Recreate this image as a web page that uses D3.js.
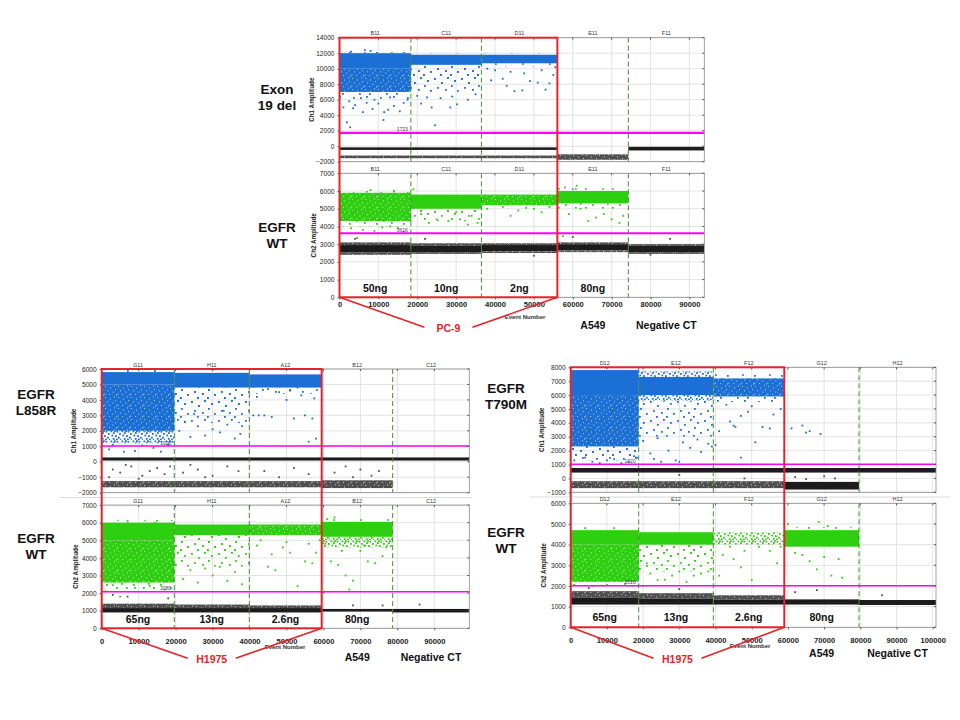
<!DOCTYPE html>
<html><head><meta charset="utf-8">
<script src="https://cdn.jsdelivr.net/npm/d3@7"></script>
<style>body{margin:0;background:#fff}svg{display:block}text{font-family:"Liberation Sans",Arial,sans-serif}</style>
</head><body><svg id="c" width="960" height="720"></svg>
<script>
// ================= DATA =================
// cluster rows: [start event, end event, low amplitude, high amplitude, density level 0..3]
// ---- Panel A : Exon 19 del / EGFR WT ----
const aWells = ["B11","C11","D11","E11","F11"];
const aBounds = [0, 18355, 36500, 56040, 74290, 93830];
const aXTicks = [0,10000,20000,30000,40000,50000,60000,70000,80000,90000];
const aCh1Ticks = [-2000,0,2000,4000,6000,8000,10000,12000,14000];
const aCh2Ticks = [0,1000,2000,3000,4000,5000,6000,7000];
const aThresholds = [1723, 3616];
const aAmounts = ["50ng","10ng","2ng","80ng"];
const aGroups = ["PC-9","A549","Negative CT"];
const aRowLabels = [["Exon","19 del"],["EGFR","WT"]];
const aCh1Pos = [[0,18355,10000,12000,0],[0,18355,12000,12150,3],[0,18355,7000,10000,1],[0,18355,6100,7000,3],
  [18355,36500,10500,11800,0],[18355,36500,11800,11950,3],[18355,36500,7000,10500,3],[18355,36500,8000,10200,3],
  [36500,56040,10700,11800,0],[36500,56040,10300,10700,3],[36500,56040,11800,11950,3]];
const aCh1Neg = [[0,56040,-480,-150,0],[0,56040,-1550,-1200,1],[56040,74290,-1750,-1050,1],[74290,93830,-550,-80,0]];
const aCh1Rain = [[1900,3080],[2750,2440],[11300,3380],[1000,5000],[2500,5800],[4000,5300],[5500,6200],[7000,5600],[8500,4800],[10000,5500],[11500,4400],[12500,4700],[14000,5200],[15500,4500],[16500,5600],[17500,6000],[3500,4900],[9000,6000],[13000,6300],[6000,4400],[6500,12400],[8000,12300],[3000,12200],
  [21000,5500],[23700,5000],[24600,2700],[28500,5000],[30200,5400],[26000,6200],[33000,6000],[20000,6500],[35000,6700],[22500,6300],[29000,6400],
  [38000,10000],[40000,9800],[42000,8700],[43000,7800],[45000,7100],[47000,7200],[49000,8400],[51000,8200],[53000,7300],[54000,8100],[55000,9200],[44000,9600],[47500,9400],[52000,9800],[39000,8500],[55500,10200]];
const aCh1RainNeg = [];
const aCh2Pos = [[0,18355,4300,5900,1],[0,18355,4000,4300,3],[0,18355,5900,6050,3],[18355,36500,5000,5800,0],[18355,36500,4300,5000,3],[18355,36500,4700,5000,3],
  [36500,56040,5200,5800,1],[56040,74290,5300,6000,0],[56040,74290,5000,5300,3],[56040,74290,6000,6150,3]];
const aCh2Neg = [[0,18355,2550,2950,0],[0,18355,2400,2550,1],[0,18355,2950,3100,1],
  [18355,36500,2550,2900,0],[18355,36500,2450,2550,1],[18355,36500,2900,3050,1],
  [36500,56040,2600,2950,0],[36500,56040,2500,2600,1],[36500,56040,2950,3050,1],
  [56040,74290,2650,3000,0],[56040,74290,2550,2650,1],[56040,74290,3000,3100,1],
  [74290,93830,2550,2900,0],[74290,93830,2450,2550,1],[74290,93830,2900,3000,1]];
const aCh2Rain = [[3000,3900],[6000,3800],[9000,3750],[13000,4000],[15000,3900],[16500,3700],[4500,3350],[11000,3950],[8000,6050],[14000,6000],
  [19000,6100],[21000,4700],[25000,4400],[28000,4300],[31000,4400],[34000,4600],[35500,4200],[30000,4800],[23000,4200],[33000,4100],
  [38000,5000],[42000,5100],[46000,4900],[50000,5000],[54000,5100],[44000,4600],[48000,5050],[52000,4800],
  [58000,6200],[60000,6100],[62000,5000],[64000,4300],[66000,4500],[68000,4700],[70000,4400],[72000,4200],[73000,4600],[59000,4700],[61000,6300],[57500,3450]];
const aCh2RainNeg = [[4000,3300],[50000,2350],[80000,2400],[85000,3300],[60000,3400],[22000,3300]];

// ---- Panel B : EGFR L858R / EGFR WT ----
const bWells = ["G11","H11","A12","B12","C12"];
const bBounds = [0, 19640, 39940, 59520, 78730, 99460];
const bXTicks = [0,10000,20000,30000,40000,50000,60000,70000,80000,90000];
const bCh1Ticks = [-2000,-1000,0,1000,2000,3000,4000,5000,6000];
const bCh2Ticks = [0,1000,2000,3000,4000,5000,6000,7000];
const bThresholds = [1020, 2080];
const bAmounts = ["65ng","13ng","2.6ng","80ng"];
const bGroups = ["H1975","A549","Negative CT"];
const bRowLabels = [["EGFR","L858R"],["EGFR","WT"]];
const bCh1Pos = [[0,19640,5000,5800,0],[0,19640,5800,5950,3],[0,19640,2000,5000,1],[0,19640,1200,2000,2],
  [19640,39940,4800,5750,0],[19640,39940,2500,4800,3],[19640,39940,3500,4800,3],[39940,59520,4800,5650,0],[39940,59520,4400,4800,3]];
const bCh1Neg = [[0,99460,80,280,0],[0,59520,-1650,-1250,1],[59520,78730,-1700,-1200,1]];
const bCh1Rain = [[2000,800],[6000,650],[9000,700],[14000,900],[16000,650],[3000,1100],[11000,1050],[18000,1100],
  [21000,2000],[24000,1600],[28000,1700],[32000,1900],[36000,1500],[38000,2300],[26000,2300],[22500,2600],[30000,2100],[34000,2400],[37500,1800],[25000,3100],[33000,3300],
  [42000,4200],[44000,3000],[46000,2900],[48000,4500],[50000,4000],[52000,2800],[54000,4300],[55000,3000],[57000,2800],[58000,1500],[56000,1300],[41000,3000],[42500,3000],[45000,4700],[51000,4600],[53000,4800],[57500,4100]];
const bCh1RainNeg = [[3000,-500],[5000,-700],[8000,-300],[11000,-900],[13000,-600],[15000,-400],[17000,-800],[18500,-300],[2000,-1000],[10000,-1100],[6500,-200],
  [22000,-700],[26000,-500],[30000,-900],[34000,-300],[37000,-600],[28000,-1000],[24000,-200],[44000,-600],[52000,-400],[56000,-800],[48000,-1000],
  [63000,-700],[66000,-300],[70000,-500],[75000,-600],[73000,-900],[68000,-1000]];
const bCh2Pos = [[0,19640,5000,6000,0],[0,19640,6000,6150,3],[0,19640,2600,5000,1],[0,19640,2200,2600,3],
  [19640,39940,5300,5900,0],[19640,39940,3500,5300,3],[19640,39940,4300,5300,3],[39940,59520,5300,5900,1],
  [59520,78730,5200,6050,0],[59520,78730,6050,6200,3],[59520,78730,4600,5200,2]];
const bCh2Neg = [[0,19640,900,1150,0],[0,19640,1150,1400,1],[19640,39940,900,1150,0],[19640,39940,1150,1350,1],
  [39940,59520,900,1150,0],[39940,59520,1150,1300,1],[59520,78730,950,1100,0],[78730,99460,900,1100,0]];
const bCh2Rain = [[1000,2100],[5000,1800],[9000,2300],[13000,2400],[17000,2200],[3000,2450],[15000,6100],[7000,6100],
  [22000,2800],[26000,2600],[30000,3000],[34000,2700],[38000,2500],[24000,3300],[28000,3400],[36000,3200],[32000,3500],[21000,5400],
  [42000,4700],[45000,3500],[47000,3300],[49000,4600],[51000,4300],[53000,2400],[55000,3800],[57000,3700],[58000,4300],[46000,4200],[43000,5000],[50000,4900],[56000,4800],[59000,5000],
  [62000,3800],[64000,3600],[66000,3000],[68000,2700],[70000,4400],[72000,3800],[74000,3700],[76000,4100],[67000,2200],[65000,4400],[61000,6200],[63000,6300],[71000,4700],[77000,4600],[60500,4800]];
const bCh2RainNeg = [[3000,1900],[7000,1800],[18000,1700],[60000,2050],[86000,1350],[68000,1300],[76000,1300]];

// ---- Panel C : EGFR T790M / EGFR WT ----
const cWells = ["D12","E12","F12","G12","H12"];
const cBounds = [0, 18780, 39390, 59000, 79640, 100900];
const cXTicks = [0,10000,20000,30000,40000,50000,60000,70000,80000,90000,100000];
const cCh1Ticks = [-1000,0,1000,2000,3000,4000,5000,6000,7000,8000];
const cCh2Ticks = [0,1000,2000,3000,4000,5000,6000];
const cThresholds = [1020, 2010];
const cAmounts = ["65ng","13ng","2.6ng","80ng"];
const cGroups = ["H1975","A549","Negative CT"];
const cRowLabels = [["EGFR","T790M"],["EGFR","WT"]];
const cCh1Pos = [[0,18780,6000,7800,0],[0,18780,2300,6000,1],[0,18780,1300,2300,3],[0,18780,1600,2300,3],
  [18780,39390,6000,7300,0],[18780,39390,5600,6000,2],[18780,39390,7300,7700,2],[18780,39390,3000,5600,3],
  [39390,59000,5900,7200,1],[39390,59000,7200,7500,3],[39390,59000,5500,5900,3]];
const cCh1Neg = [[0,100900,420,750,0],[0,59000,-700,-200,1],[59000,79640,-800,-250,0]];
const cCh1Rain = [[1000,1300],[4000,1500],[8000,1100],[12000,1400],[16000,1200],[17500,1600],[6000,1200],[10000,1300],[14000,1100],[18000,1500],
  [22000,1800],[25000,1200],[29000,1300],[33000,2200],[36000,1900],[38000,2500],[27000,2000],[20000,2700],[24000,2900],[31000,2600],[35000,2800],[39000,2300],[23000,1400],[30000,1200],
  [41000,3400],[45000,3800],[47000,4500],[49000,4800],[51000,2600],[53000,3700],[55000,3600],[47000,1500],[40000,2400],[43000,5300],[50000,5200],[56000,4600],[58000,5000],[44000,4100],[45500,3700],
  [61000,3600],[64000,3800],[65000,3300],[66000,3400],[69000,3200]];
const cCh1RainNeg = [[62000,100],[65000,-50],[70000,150],[73000,0],[48000,0],[30000,250]];
const cCh2Pos = [[0,18780,4000,4700,0],[0,18780,2200,4000,1],[18780,39390,4000,4600,0],[18780,39390,2700,4000,3],[18780,39390,3200,4000,3],
  [39390,59000,4000,4600,2],[59000,79640,3900,4700,0],[59000,79640,4700,4850,3]];
const cCh2Neg = [[0,18780,1100,1450,0],[0,18780,1450,1750,1],[18780,39390,1100,1400,0],[18780,39390,1400,1650,1],
  [39390,59000,1100,1350,0],[39390,59000,1350,1550,1],[59000,79640,1100,1350,0],[79640,100900,1080,1320,0]];
const cCh2Rain = [[1000,2050],[6000,2000],[10000,2050],[15000,2100],[17000,2000],[12000,4800],[4000,4800],
  [20000,2000],[24000,2300],[28000,2500],[32000,2200],[36000,2600],[22000,2600],[26000,2300],[34000,2500],[38000,2700],[30000,2700],[21000,3100],
  [42000,3500],[45000,3300],[47000,2900],[50000,2300],[52000,3900],[55000,3700],[57000,3100],[44000,3900],[48000,3700],[58000,3900],[41000,2500],
  [60000,5000],[64000,3500],[66000,3200],[68000,2800],[70000,3400],[72000,2500],[75000,2400],[62000,3600],[74000,3300],[68500,5100],[71000,4900]];
const cCh2RainNeg = [[5000,1900],[30000,1850],[62000,1700],[68000,1800],[86000,1550]];

// ================= DRAWING =================
const svg = d3.select("#c");
const defs = svg.append("defs");
const COL = {blue:"#1b6fd5", green:"#2ecf10", neg:"#1c1c1c", negLite:"#505050", red:"#e3242b", mag:"#ff00ff", dash:"#3f8f2c"};

// texture tiles (styling only)
const speckTile = {w:13, h:11, pts:[[1,1],[6,2.6],[10,0.4],[3.2,5.4],[8.4,6.6],[0.4,8.6],[5.2,9],[11,4.2],[12,9.5]]};
const medTile = {w:11, h:10, pts:[[0.5,0.5],[3,2.2],[6.5,0.8],[9,3],[1.4,4.6],[5,5.2],[8,6.8],[2.8,8],[6,8.6],[10,8.8],[4,0.2]]};
const sparseTile = {w:27, h:19, pts:[[2,2],[9,6],[15,1],[22,4],[5,11],[13,13],[19,9],[25,14],[8,17],[18,17]]};

function makePatterns(key, color){
  let p = defs.append("pattern").attr("id", key+"1").attr("patternUnits","userSpaceOnUse").attr("width",speckTile.w).attr("height",speckTile.h);
  p.append("rect").attr("width",speckTile.w).attr("height",speckTile.h).attr("fill",color);
  speckTile.pts.forEach(q=>p.append("rect").attr("x",q[0]).attr("y",q[1]).attr("width",0.9).attr("height",0.9).attr("fill","#fff").attr("opacity",0.85));
  p = defs.append("pattern").attr("id", key+"2").attr("patternUnits","userSpaceOnUse").attr("width",medTile.w).attr("height",medTile.h);
  medTile.pts.forEach(q=>p.append("rect").attr("x",q[0]).attr("y",q[1]).attr("width",1.8).attr("height",1.8).attr("fill",color));
  p = defs.append("pattern").attr("id", key+"3").attr("patternUnits","userSpaceOnUse").attr("width",sparseTile.w).attr("height",sparseTile.h);
  sparseTile.pts.forEach(q=>p.append("rect").attr("x",q[0]).attr("y",q[1]).attr("width",1.8).attr("height",1.8).attr("fill",color));
}
makePatterns("blue", COL.blue);
makePatterns("green", COL.green);
makePatterns("neg", COL.negLite);

function fillFor(key, solidColor, level){
  return level === 0 ? solidColor : "url(#" + key + level + ")";
}

function drawChannel(P, C){
  const x = d3.scaleLinear().domain([0, P.xMax]).range([P.left, P.right]);
  const y = d3.scaleLinear().domain([C.ticks[0], C.ticks[C.ticks.length-1]]).range([C.bottom, C.top]);
  const g = svg.append("g");
  g.append("rect").attr("x",P.left).attr("y",C.top).attr("width",P.right-P.left).attr("height",C.bottom-C.top).attr("fill","#fff");
  g.append("g").selectAll("line").data(P.xTicks.filter(v=>v>0)).join("line")
    .attr("x1",d=>x(d)).attr("x2",d=>x(d)).attr("y1",C.top).attr("y2",C.bottom).attr("stroke","#dcdcdc").attr("stroke-width",0.8);
  g.append("g").selectAll("line").data(C.ticks).join("line")
    .attr("x1",P.left).attr("x2",P.right).attr("y1",d=>y(d)).attr("y2",d=>y(d)).attr("stroke","#dcdcdc").attr("stroke-width",0.8);
  const clip = "clip" + Math.round(C.top);
  defs.append("clipPath").attr("id",clip).append("rect").attr("x",P.left).attr("y",C.top).attr("width",P.right-P.left).attr("height",C.bottom-C.top);
  const dg = g.append("g").attr("clip-path","url(#"+clip+")");
  dg.selectAll("rect.neg").data(C.neg).join("rect").attr("class","neg")
    .attr("x",d=>x(d[0])).attr("width",d=>x(d[1])-x(d[0])).attr("y",d=>y(d[3])).attr("height",d=>Math.max(1.5,y(d[2])-y(d[3])))
    .attr("fill",d=>fillFor("neg", COL.neg, d[4]));
  dg.selectAll("rect.rn").data(C.rainNeg).join("rect").attr("class","rn")
    .attr("x",d=>x(d[0])-0.9).attr("y",d=>y(d[1])-0.9).attr("width",1.8).attr("height",1.8).attr("fill",COL.negLite);
  dg.selectAll("rect.pos").data(C.pos).join("rect").attr("class","pos")
    .attr("x",d=>x(d[0])).attr("width",d=>x(d[1])-x(d[0])).attr("y",d=>y(d[3])).attr("height",d=>y(d[2])-y(d[3]))
    .attr("fill",d=>fillFor(C.key, C.color, d[4]));
  dg.selectAll("rect.rp").data(C.rain).join("rect").attr("class","rp")
    .attr("x",d=>x(d[0])-0.9).attr("y",d=>y(d[1])-0.9).attr("width",1.8).attr("height",1.8).attr("fill",C.color);
  g.append("line").attr("x1",P.left).attr("x2",P.right).attr("y1",y(C.threshold)).attr("y2",y(C.threshold))
    .attr("stroke",COL.mag).attr("stroke-width",P.thrWidth);
  g.append("text").attr("x",x(P.bounds[1])-3).attr("y",y(C.threshold)-1.5).attr("text-anchor","end")
    .attr("font-size",5).attr("fill","#444").text(C.threshold);
  g.append("g").selectAll("line").data([P.bounds[1],P.bounds[2],P.bounds[4]]).join("line")
    .attr("x1",d=>x(d)).attr("x2",d=>x(d)).attr("y1",C.top).attr("y2",C.bottom)
    .attr("stroke",COL.dash).attr("stroke-width",1).attr("stroke-dasharray","5,3");
  g.append("rect").attr("x",P.left).attr("y",C.top).attr("width",P.right-P.left).attr("height",C.bottom-C.top)
    .attr("fill","none").attr("stroke","#8a8a8a").attr("stroke-width",0.8);
  g.append("g").selectAll("line").data(P.xTicks).join("line")
    .attr("x1",d=>x(d)).attr("x2",d=>x(d)).attr("y1",C.top).attr("y2",C.top+2).attr("stroke","#555");
  g.append("g").selectAll("line").data(C.ticks).join("line")
    .attr("x1",P.right-2).attr("x2",P.right).attr("y1",d=>y(d)).attr("y2",d=>y(d)).attr("stroke","#555");
  const ya = g.append("g").attr("transform","translate("+P.left+",0)")
    .call(d3.axisLeft(y).tickValues(C.ticks).tickSize(2).tickPadding(3).tickFormat(d3.format("d")));
  ya.select(".domain").remove();
  ya.selectAll("line").attr("stroke","#555");
  ya.selectAll("text").attr("font-size",6.6).attr("fill","#222").attr("font-family","Liberation Sans, Arial, sans-serif");
  g.append("text").attr("transform","translate("+(P.left-C.titleOff)+","+((C.top+C.bottom)/2)+") rotate(-90)")
    .attr("text-anchor","middle").attr("dy","0.35em").attr("font-size",6.3).attr("font-weight","bold").attr("fill","#222").text(C.title);
  const mids = P.wells.map((w,i)=>(P.bounds[i]+P.bounds[i+1])/2);
  g.append("g").selectAll("text").data(P.wells).join("text")
    .attr("x",(d,i)=>x(mids[i])).attr("y",C.top-2.5).attr("text-anchor","middle").attr("font-size",5.5).attr("fill","#333").text(d=>d);
  if (C.xAxis){
    const xa = g.append("g").attr("transform","translate(0,"+C.bottom+")")
      .call(d3.axisBottom(x).tickValues(P.xTicks).tickSize(2).tickPadding(P.xPad).tickFormat(d3.format("d")));
    xa.select(".domain").remove();
    xa.selectAll("line").attr("stroke","#555");
    xa.selectAll("text").attr("font-size",7.6).attr("font-weight","bold").attr("fill","#222").attr("font-family","Liberation Sans, Arial, sans-serif");
    g.append("text").attr("x",P.evX).attr("y",C.bottom+P.evDy).attr("text-anchor","middle")
      .attr("font-size",6).attr("font-weight","bold").attr("fill","#333").text("Event Number");
    g.append("g").selectAll("text").data(P.amounts).join("text")
      .attr("x",(d,i)=>x(mids[i])).attr("y",C.bottom-P.amtUp).attr("text-anchor","middle")
      .attr("font-size",10.5).attr("font-weight","bold").attr("fill","#111").text(d=>d);
  }
  return {x, y};
}

function drawPanel(P){
  if (P.sep) svg.append("line").attr("x1",P.sep[0]).attr("x2",P.sep[1]).attr("y1",P.sep[2]).attr("y2",P.sep[2]).attr("stroke","#d0d0d0").attr("stroke-width",0.8);
  const s1 = drawChannel(P, P.ch1);
  drawChannel(P, P.ch2);
  const x = s1.x;
  const xr = x(P.bounds[3]);
  svg.append("rect").attr("x",P.left).attr("y",P.ch1.top).attr("width",xr-P.left).attr("height",P.ch2.bottom-P.ch1.top)
    .attr("fill","none").attr("stroke",COL.red).attr("stroke-width",2);
  const gx = (P.left+xr)/2;
  const ly = P.ch2.bottom + P.grpRed;
  svg.append("line").attr("x1",P.left).attr("y1",P.ch2.bottom).attr("x2",gx-24).attr("y2",ly-1).attr("stroke",COL.red).attr("stroke-width",1.6);
  svg.append("line").attr("x1",xr).attr("y1",P.ch2.bottom).attr("x2",gx+24).attr("y2",ly-1).attr("stroke",COL.red).attr("stroke-width",1.6);
  svg.append("text").attr("x",gx).attr("y",ly).attr("dy","0.35em").attr("text-anchor","middle")
    .attr("font-size",10.5).attr("font-weight","bold").attr("fill",COL.red).text(P.groups[0]);
  const m4 = (P.bounds[3]+P.bounds[4])/2, m5 = (P.bounds[4]+P.bounds[5])/2;
  svg.append("g").selectAll("text").data(P.groups.slice(1)).join("text")
    .attr("x",(d,i)=>x(i===0?m4:m5)).attr("y",P.ch2.bottom+P.grpBlack).attr("dy","0.35em").attr("text-anchor","middle")
    .attr("font-size",10.5).attr("font-weight","bold").attr("fill","#111").text(d=>d);
  [P.ch1, P.ch2].forEach((C,k)=>{
    const t = svg.append("text").attr("x",P.rowX).attr("text-anchor","middle").attr("font-size",13.5).attr("font-weight","bold").attr("fill","#111");
    P.rowLabels[k].forEach((s,j)=>t.append("tspan").attr("x",P.rowX).attr("y",C.rowY+j*16).text(s));
  });
}

drawPanel({left:339.5,right:704.3,xMax:aBounds[5],bounds:aBounds,wells:aWells,xTicks:aXTicks,amounts:aAmounts,groups:aGroups,rowLabels:aRowLabels,
  rowX:277,thrWidth:2.2,xPad:2,evX:525,evDy:22,amtUp:5.5,grpRed:31,grpBlack:28,
  ch1:{top:37.7,bottom:161.7,ticks:aCh1Ticks,threshold:aThresholds[0],pos:aCh1Pos,neg:aCh1Neg,rain:aCh1Rain,rainNeg:aCh1RainNeg,key:"blue",color:COL.blue,title:"Ch1 Amplitude",titleOff:28,rowY:94},
  ch2:{top:173.3,bottom:297.3,ticks:aCh2Ticks,threshold:aThresholds[1],pos:aCh2Pos,neg:aCh2Neg,rain:aCh2Rain,rainNeg:aCh2RainNeg,key:"green",color:COL.green,title:"Ch2 Amplitude",titleOff:26,rowY:232,xAxis:true}});

drawPanel({left:101.7,right:469.3,xMax:bBounds[5],bounds:bBounds,wells:bWells,xTicks:bXTicks,amounts:bAmounts,groups:bGroups,rowLabels:bRowLabels,
  rowX:36,thrWidth:1.6,xPad:8,evX:285,evDy:21,amtUp:5.3,grpRed:31,grpBlack:29,sep:[60,472,497.5],
  ch1:{top:369,bottom:492.7,ticks:bCh1Ticks,threshold:bThresholds[0],pos:bCh1Pos,neg:bCh1Neg,rain:bCh1Rain,rainNeg:bCh1RainNeg,key:"blue",color:COL.blue,title:"Ch1 Amplitude",titleOff:28,rowY:399},
  ch2:{top:505.1,bottom:628.3,ticks:bCh2Ticks,threshold:bThresholds[1],pos:bCh2Pos,neg:bCh2Neg,rain:bCh2Rain,rainNeg:bCh2RainNeg,key:"green",color:COL.green,title:"Ch2 Amplitude",titleOff:26,rowY:543,xAxis:true}});

drawPanel({left:570.7,right:936,xMax:cBounds[5],bounds:cBounds,wells:cWells,xTicks:cXTicks,amounts:cAmounts,groups:cGroups,rowLabels:cRowLabels,
  rowX:506,thrWidth:1.6,xPad:8,evX:750,evDy:21,amtUp:6.8,grpRed:32,grpBlack:26,sep:[530,950,497],
  ch1:{top:367.3,bottom:492.3,ticks:cCh1Ticks,threshold:cThresholds[0],pos:cCh1Pos,neg:cCh1Neg,rain:cCh1Rain,rainNeg:cCh1RainNeg,key:"blue",color:COL.blue,title:"Ch1 Amplitude",titleOff:29,rowY:393},
  ch2:{top:503.3,bottom:627.3,ticks:cCh2Ticks,threshold:cThresholds[1],pos:cCh2Pos,neg:cCh2Neg,rain:cCh2Rain,rainNeg:cCh2RainNeg,key:"green",color:COL.green,title:"Ch2 Amplitude",titleOff:27,rowY:537,xAxis:true}});
</script></body></html>
